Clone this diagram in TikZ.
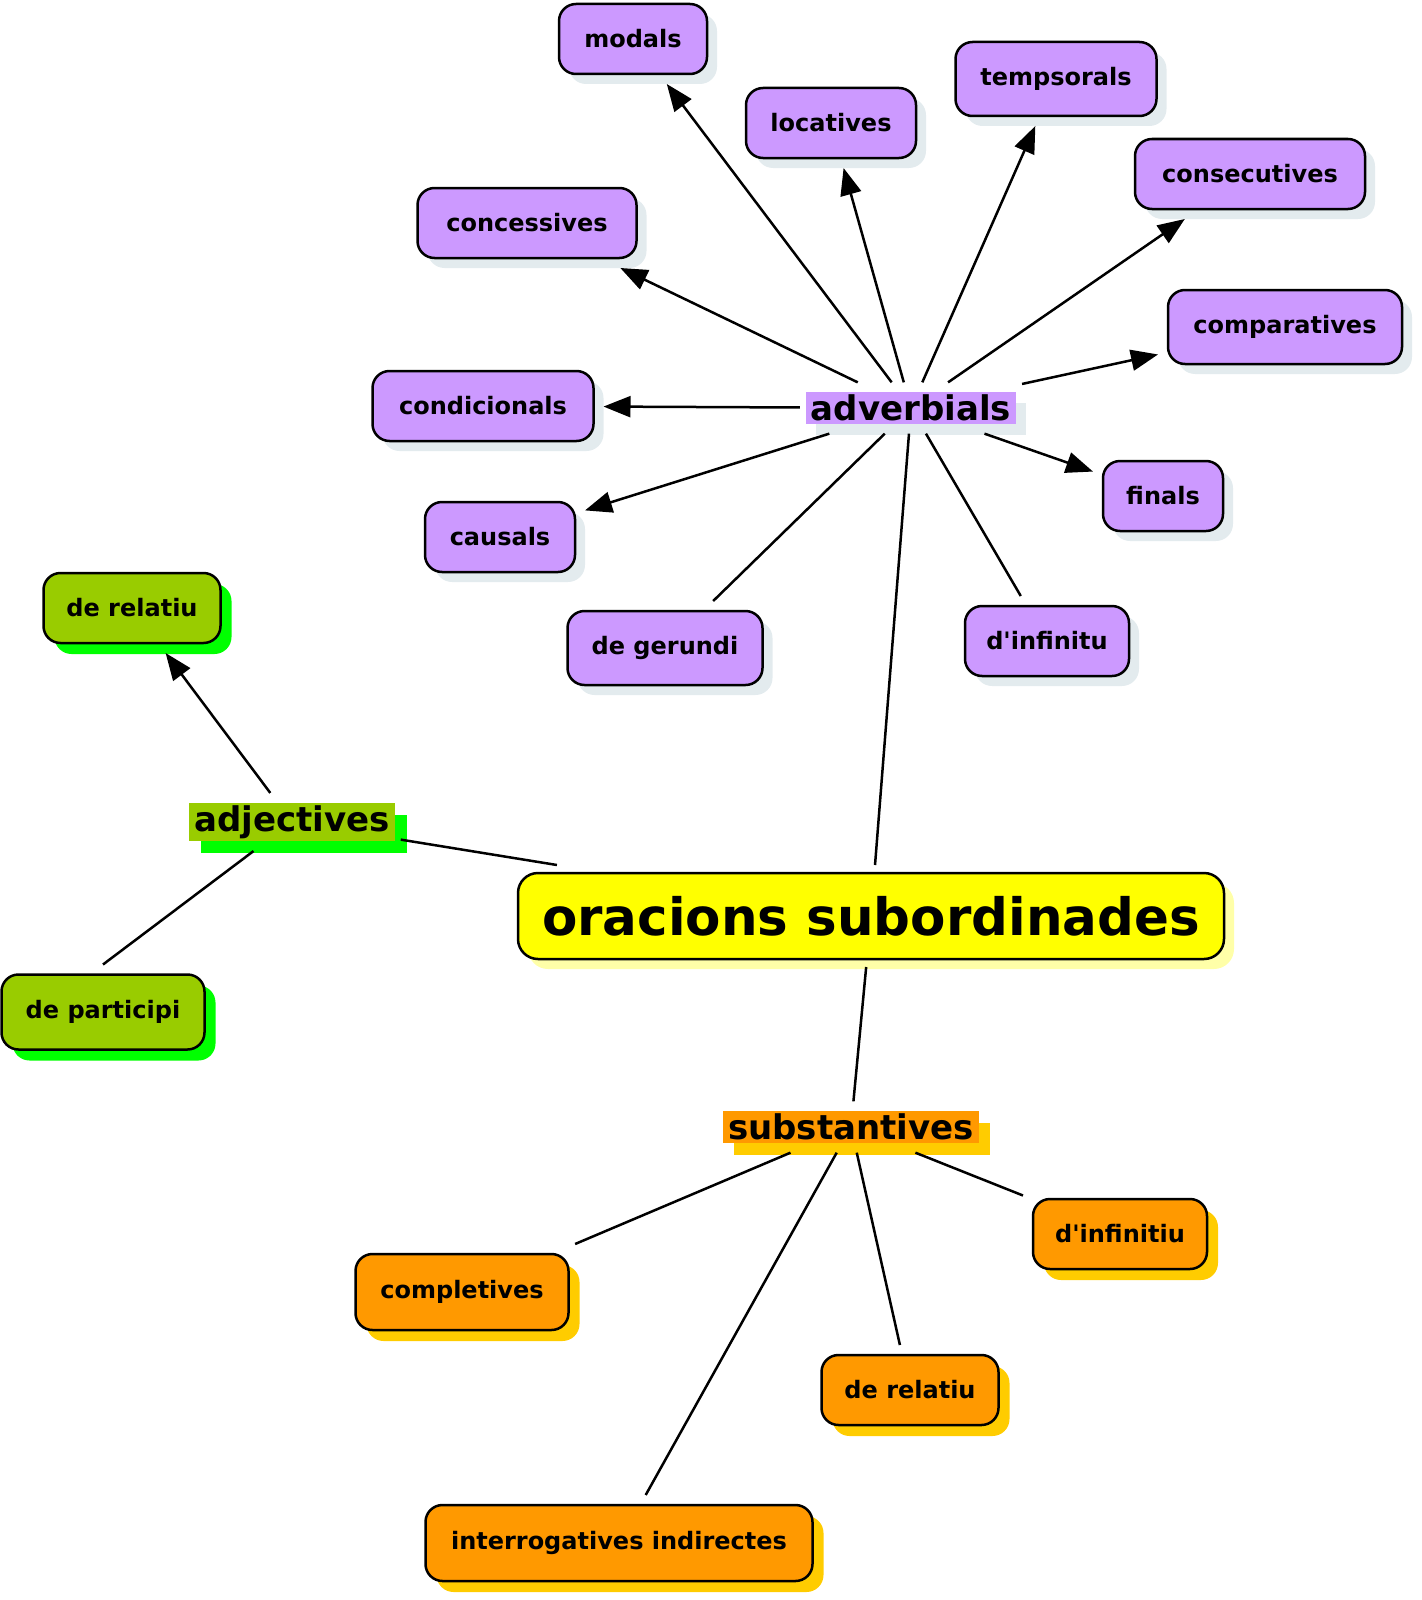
\documentclass[tikz,border=0pt]{standalone}
\usepackage{fontspec}
\setmainfont{DejaVu Sans}
\usetikzlibrary{shadows,arrows.meta}
\definecolor{purp}{HTML}{CC99FF}
\definecolor{pshadow}{HTML}{E3EBEE}
\definecolor{grn}{HTML}{99CC00}
\definecolor{gshadow}{HTML}{00FF00}
\definecolor{org}{HTML}{FF9900}
\definecolor{oshadow}{HTML}{FFCC00}
\definecolor{yel}{HTML}{FFFF00}
\definecolor{yshadow}{HTML}{FFFFA8}
\begin{document}
\begin{tikzpicture}[x=1pt,y=-1pt,
  box/.style={draw=black, line width=2.5pt, rounded corners=17pt,
    font=\fontsize{24}{28}\selectfont\bfseries, minimum height=70pt,
    inner sep=0pt, outer sep=10pt, text=black},
  pbox/.style={box, fill=purp, drop shadow={opacity=1, fill=pshadow, shadow xshift=10pt, shadow yshift=-10pt}},
  gbox/.style={box, fill=grn, drop shadow={opacity=1, fill=gshadow, shadow xshift=11pt, shadow yshift=-11pt}},
  obox/.style={box, fill=org, drop shadow={opacity=1, fill=oshadow, shadow xshift=11pt, shadow yshift=-11pt}},
  mainbox/.style={draw=black, line width=2.5pt, rounded corners=20pt, fill=yel,
    font=\fontsize{51.5}{56}\selectfont\bfseries, minimum width=706pt, minimum height=86pt,
    inner sep=0pt, outer sep=8pt,
    drop shadow={opacity=1, fill=yshadow, shadow xshift=10pt, shadow yshift=-10pt}},
  lbl/.style={font=\fontsize{34}{37}\selectfont\bfseries, inner xsep=5pt, inner ysep=2.5pt,
    outer xsep=6pt, outer ysep=10pt},
  plbl/.style={lbl, fill=purp, drop shadow={opacity=1, fill=pshadow, shadow xshift=10pt, shadow yshift=-11pt}},
  glbl/.style={lbl, fill=grn, drop shadow={opacity=1, fill=gshadow, shadow xshift=12pt, shadow yshift=-12pt}},
  olbl/.style={lbl, fill=org, drop shadow={opacity=1, fill=oshadow, shadow xshift=11pt, shadow yshift=-12pt}},
  ln/.style={line width=2.5pt, draw=black},
  arr/.style={ln, -{Triangle[length=27pt,width=21pt]}}
]
\useasboundingbox (0,0) rectangle (1421,1600);

% adverbial boxes
\node[pbox, minimum width=148pt] (modals) at (633,39) {modals};
\node[pbox, minimum width=170pt] (locatives) at (831,123) {locatives};
\node[pbox, minimum width=201pt, minimum height=74pt] (tempsorals) at (1056,79) {tempsorals};
\node[pbox, minimum width=230pt] (consecutives) at (1250,174) {consecutives};
\node[pbox, minimum width=219pt] (concessives) at (527,223) {concessives};
\node[pbox, minimum width=234pt, minimum height=74pt] (comparatives) at (1285,327) {comparatives};
\node[pbox, minimum width=221pt] (condicionals) at (483,406) {condicionals};
\node[pbox, minimum width=120pt] (finals) at (1163,496) {finals};
\node[pbox, minimum width=150pt] (causals) at (500,537) {causals};
\node[pbox, minimum width=195pt, minimum height=74pt] (gerundi) at (665,648) {de gerundi};
\node[pbox, minimum width=164pt] (dinfinitu) at (1047,641) {d\textquotesingle infinitu};

% adjective boxes
\node[gbox, minimum width=177pt] (relatiuA) at (132,608) {de relatiu};
\node[gbox, minimum width=203pt, minimum height=75pt] (participi) at (103,1012) {de participi};

% substantive boxes
\node[obox, minimum width=213pt, minimum height=76pt] (completives) at (462,1292) {completives};
\node[obox, minimum width=174pt] (dinfinitiu) at (1120,1234) {d\textquotesingle infinitiu};
\node[obox, minimum width=177pt] (relatiuS) at (910,1390) {de relatiu};
\node[obox, minimum width=387pt, minimum height=76pt] (interrog) at (619,1543) {interrogatives indirectes};

% main and category labels
\node[mainbox] (main) at (871,916) {oracions subordinades};
\node[plbl] (adv) at (911,408) {adverbials};
\node[glbl] (adj) at (292,822) {adjectives};
\node[olbl] (sub) at (851,1127) {substantives};

% connectors
\draw[arr] (adv) -- (modals);
\draw[arr] (adv) -- (locatives);
\draw[arr] (adv) -- (tempsorals);
\draw[arr] (adv) -- (consecutives);
\draw[arr] (adv) -- (concessives);
\draw[arr] (adv) -- (comparatives);
\draw[arr] (adv) -- (condicionals);
\draw[arr] (adv) -- (finals);
\draw[arr] (adv) -- (causals);
\draw[ln] (adv) -- (gerundi);
\draw[ln] (adv) -- (dinfinitu);
\draw[ln] (adv) -- (main);

\draw[arr] (adj) -- (relatiuA);
\draw[ln] (adj) -- (participi.north);
\draw[ln] (adj) -- (main);

\draw[ln] (main) -- (sub);
\draw[ln] (sub) -- (completives);
\draw[ln] (sub) -- (interrog);
\draw[ln] (sub) -- (relatiuS);
\draw[ln] (sub) -- (dinfinitiu);
\end{tikzpicture}
\end{document}
